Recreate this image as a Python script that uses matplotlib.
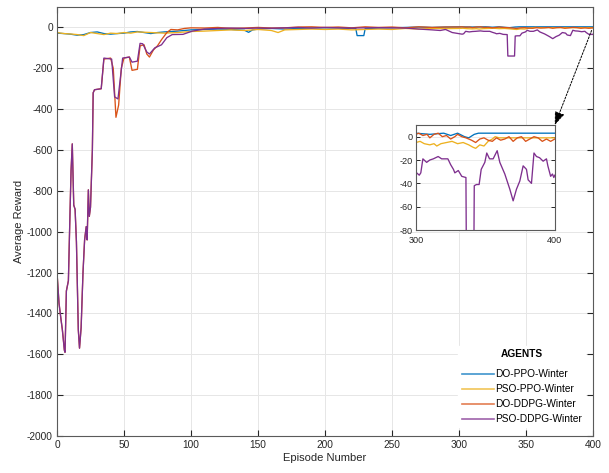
import matplotlib
matplotlib.use("Agg")
import matplotlib.pyplot as plt

plt.rcParams['font.family'] = ['Liberation Sans', 'DejaVu Sans']
plt.rcParams['axes.unicode_minus'] = False

# ---- episode / reward data -------------------------------------------------
do_ppo_ep = [0, 5, 10, 15, 20, 25, 30, 35, 40, 45, 50, 55, 60, 65, 70, 75, 80, 85, 90, 95,
             100, 110, 120, 130, 140, 143, 146, 150, 160, 170, 180, 190, 200, 210, 220,
             223, 224, 229, 230, 240, 250, 260, 270, 280, 290,
             300, 310, 320, 325, 330, 335, 338, 342, 345, 360, 380, 400]
do_ppo_val = [-28, -30, -33, -38, -35, -25, -22, -30, -33, -30, -28, -22, -20, -25, -30, -25, -22, -20, -18, -15,
              -12, -10, -8, -10, -14, -24, -12, -8, -5, -8, -5, -3, -2, -3, -5,
              -5, -40, -40, -6, -3, -2, 0, 2, 0, 2,
              3, 2, 3, 1, 3, 0, -1, 2, 3, 3, 3, 3]

pso_ppo_ep = [0, 5, 10, 15, 20, 25, 30, 35, 40, 45, 50, 55, 60, 70, 80, 90, 100, 110, 120, 130,
              140, 150, 160, 165, 170, 180, 190, 200, 210, 220, 230, 240, 250, 260, 270, 280, 290,
              300, 303, 306, 310, 313, 315, 318, 322, 326, 330, 334, 338, 341, 343, 346, 349,
              352, 355, 357, 360, 370, 380, 390, 400]
pso_ppo_val = [-25, -30, -32, -35, -40, -25, -30, -35, -28, -30, -25, -28, -22, -25, -28, -25, -20, -18, -15, -12,
               -15, -10, -15, -25, -12, -10, -8, -10, -8, -12, -10, -8, -10, -5, -8, -5, -6,
               -5, -4, -6, -7, -6, -8, -6, -5, -4, -6, -5, -7, -9, -10, -7, -8,
               -4, -2, 0, -1, -1, -1, -1, -1]

do_ddpg_ep = [0, 1.5, 3, 4, 5.5, 6, 7, 8.5, 9.7, 10.5, 11.4, 12.5, 13.5, 14.5, 15.9, 16.8, 18,
              19.4, 20.6, 21.8, 22.5, 23.4, 24.1, 25, 26.4, 27, 28, 33, 35, 40, 42, 44, 46, 48,
              50, 54, 56, 60, 62, 65, 67, 69, 72, 75, 78, 82, 85, 90, 95, 100, 110, 120, 130,
              140, 150, 160, 170, 180, 190, 200, 210, 220, 230, 240, 250, 260, 270, 280, 290,
              300, 302, 305, 308, 310, 313, 316, 319, 322, 325, 328, 330, 333, 336, 340, 343,
              346, 349, 352, 355, 358, 361, 364, 367, 370, 373, 376, 379, 382, 385, 388, 391,
              394, 397, 400]
do_ddpg_val = [-1200, -1350, -1430, -1480, -1580, -1590, -1290, -1240, -910, -700, -570, -870, -890, -1050, -1480, -1570, -1470,
               -1200, -1040, -975, -1040, -795, -925, -880, -600, -320, -305, -300, -155, -150, -200, -440, -380, -200,
               -150, -145, -210, -205, -90, -85, -130, -145, -110, -90, -60, -25, -10, -12, -5, -2, -3, 0, -5,
               -3, 0, -3, -2, 2, 3, 0, 2, -2, 3, 0, 2, -2, 3, 0, 2,
               2, 3, 1, 2, -1, 2, 3, 0, 1, -2, 0, 2, 0, -1, -3, -5,
               -2, -1, -3, -4, -1, -3, -2, 0, -4, -1, 0, -4, -2, 0, -1, -4,
               -2, -4, -2]

pso_ddpg_ep = [0, 1.5, 3, 4, 5.5, 6, 7, 8.5, 9.7, 10.5, 11.4, 12.5, 13.5, 14.5, 15.9, 16.8, 18,
               19.4, 20.6, 21.8, 22.5, 23.4, 24.1, 25, 26.4, 27, 28, 33, 35, 40.8, 43, 45.5, 49,
               54, 56, 60, 62, 64, 67, 69, 73, 78, 82, 86, 94, 101, 110, 120, 130, 140, 150, 160,
               170, 180, 190, 200, 210, 220, 230, 240, 250, 260, 270, 280, 286, 290, 295,
               300.5, 302.4, 303.5, 305, 307.7, 310, 312.5, 316, 318.5, 323, 325, 327, 328, 330.5,
               333, 336, 336.5, 341.5, 342, 343.6, 345.5, 347, 349.6, 351, 353, 355.6, 358.5,
               360.4, 364, 367.6, 370, 372.4, 374.8, 377.2, 379.6, 380.8, 383.2, 385, 386.8,
               389, 391.6, 394, 395, 397, 398.3, 399.3, 400]
pso_ddpg_val = [-1200, -1350, -1430, -1480, -1580, -1590, -1290, -1240, -910, -700, -570, -870, -890, -1050, -1480, -1570, -1470,
                -1200, -1040, -975, -1040, -795, -925, -880, -600, -320, -305, -300, -150, -155, -340, -350, -150,
                -145, -170, -165, -78, -80, -120, -130, -100, -85, -50, -35, -34, -18, -8, -5, -3, -5, -3, -4,
                -2, 0, -3, 0, -2, -3, -2, -1, -2, -3, -8, -12, -15, -10, -25,
                -31, -33, -31, -19, -22, -20, -19, -17, -19, -19, -24, -28, -31, -29,
                -34, -35, -140, -140, -42, -41, -41, -28, -22, -14, -19, -19, -12,
                -22, -32, -45, -55, -45, -38, -25, -28, -37, -40, -14, -17,
                -18, -21, -19, -25, -34, -32, -35, -33]

agent_names = ['DO-PPO-Winter', 'PSO-PPO-Winter', 'DO-DDPG-Winter', 'PSO-DDPG-Winter']
agent_colors = ['#0072BD', '#EDB120', '#D95319', '#7E2F8E']
series = [(do_ppo_ep, do_ppo_val), (pso_ppo_ep, pso_ppo_val),
          (do_ddpg_ep, do_ddpg_val), (pso_ddpg_ep, pso_ddpg_val)]

x_ticks = list(range(0, 401, 50))
y_ticks = list(range(-2000, 1, 200))

# ---- figure ----------------------------------------------------------------
fig = plt.figure(figsize=(6.09, 4.73), dpi=100)
ax = fig.add_axes([0.0936, 0.0782, 0.880, 0.907])

axis_gray = '#262626'
for (ep, val), name, col in zip(series, agent_names, agent_colors):
    ax.plot(ep, val, color=col, lw=0.95, label=name)

ax.set_xlim(0, 400)
ax.set_ylim(-2000, 100)
ax.set_xticks(x_ticks)
ax.set_yticks(y_ticks)
ax.grid(True, color='#e6e6e6', lw=0.7)
ax.set_axisbelow(True)
ax.tick_params(direction='in', top=True, right=True, length=4, width=0.8,
               labelsize=7.3, colors=axis_gray, pad=3)
for s in ax.spines.values():
    s.set_color('#5a5a5a')
    s.set_linewidth(0.8)
ax.set_xlabel('Episode Number', fontsize=8, color=axis_gray, labelpad=2)
ax.set_ylabel('Average Reward', fontsize=8, color=axis_gray, labelpad=2)

leg = ax.legend(loc='lower right', bbox_to_anchor=(0.985, 0.02), borderaxespad=0,
                fontsize=7.3, title='AGENTS', handlelength=3.2, handletextpad=0.1,
                labelspacing=0.5, frameon=True, fancybox=False, borderpad=0.3)
leg.get_title().set_fontweight('bold')
leg.get_title().set_fontsize(7.3)
leg._legend_box.sep = 7
leg.get_frame().set_edgecolor('white')
leg.get_frame().set_facecolor('white')
leg.get_frame().set_alpha(1)
for h in leg.get_lines():
    h.set_alpha(0.75)
    h.set_linewidth(1.2)

# ---- zoomed inset for the last 100 episodes ---------------------------------
axin = fig.add_axes([0.683, 0.5137, 0.228, 0.222])
for (ep, val), col in zip(series, agent_colors):
    axin.plot(ep, val, color=col, lw=0.95)
axin.set_xlim(300, 400)
axin.set_ylim(-80, 10)
axin.set_xticks([300, 400])
axin.set_yticks([0, -20, -40, -60, -80])
axin.grid(True, color='#e6e6e6', lw=0.6)
axin.set_axisbelow(True)
axin.tick_params(direction='in', top=False, right=True, length=3, width=0.7,
                 labelsize=6.6, colors=axis_gray)
axin.tick_params(axis='x', pad=4)
axin.tick_params(axis='y', pad=2)
for s in axin.spines.values():
    s.set_color('#5a5a5a')
    s.set_linewidth(0.8)

ax.annotate('', xy=(1.0, 1.0), xycoords=axin.transAxes,
            xytext=(399, -15), textcoords='data',
            arrowprops=dict(arrowstyle='-|>,head_length=0.8,head_width=0.3',
                            linestyle=(0, (2, 1.5)), color='black', lw=0.7,
                            shrinkA=0, shrinkB=0))

fig.savefig('out.png', dpi=100)
